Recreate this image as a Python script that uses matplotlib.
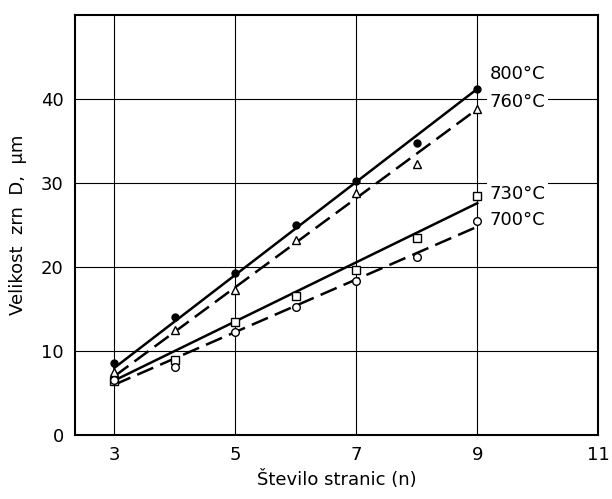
import numpy as np
import matplotlib
matplotlib.use('Agg')
import matplotlib.pyplot as plt

n = [3, 4, 5, 6, 7, 8, 9]

d800 = [8.6, 14.0, 19.3, 25.0, 30.2, 34.8, 41.2]
d760 = [7.5, 12.5, 17.3, 23.2, 28.8, 32.3, 38.8]
d730 = [6.4, 8.9, 13.5, 16.5, 19.6, 23.4, 28.5]
d700 = [6.6, 8.1, 12.3, 15.3, 18.3, 21.2, 25.5]

# ends of the drawn straight lines (x = 3 and x = 9)
line_n = [3, 9]
l800 = [8.0, 41.2]
l760 = [7.0, 38.8]
l730 = [6.5, 27.6]
l700 = [6.0, 24.8]

labels = ['800°C', '760°C', '730°C', '700°C']
label_y = [43.0, 39.6, 28.7, 25.6]

fig = plt.figure(figsize=(6.12, 4.99), dpi=100)
ax = fig.add_axes([0.1225, 0.128, 0.855, 0.842])

dash = (0, (7, 3))
ax.plot(line_n, l800, color='k', lw=1.8)
ax.plot(line_n, l760, color='k', lw=1.8, linestyle=dash)
ax.plot(line_n, l730, color='k', lw=1.8)
ax.plot(line_n, l700, color='k', lw=1.8, linestyle=dash)

ax.plot(n, d800, 'o', color='k', ms=5, zorder=3)
ax.plot(n, d760, '^', mfc='white', mec='k', ms=6, mew=1, zorder=3)
ax.plot(n, d730, 's', mfc='white', mec='k', ms=5.5, mew=1, zorder=3)
ax.plot(n, d700, 'o', mfc='white', mec='k', ms=5.5, mew=1, zorder=3)

for lab, y in zip(labels, label_y):
    ax.text(9.2, y, lab, fontsize=13, va='center', ha='left',
            bbox=dict(facecolor='white', edgecolor='none', pad=2))

ax.set_xlim(2.35, 11)
ax.set_ylim(0, 50)
ax.set_xticks([3, 5, 7, 9, 11])
ax.set_yticks([0, 10, 20, 30, 40])
ax.tick_params(length=0, labelsize=13, pad=8)
ax.grid(True, color='k', lw=0.8)
ax.set_axisbelow(True)
for s in ax.spines.values():
    s.set_linewidth(1.5)

ax.set_xlabel('Število stranic (n)', fontsize=13, labelpad=4)
ax.set_ylabel('Velikost  zrn  D,  µm', fontsize=13, labelpad=10)

fig.savefig('out.png', dpi=100)
